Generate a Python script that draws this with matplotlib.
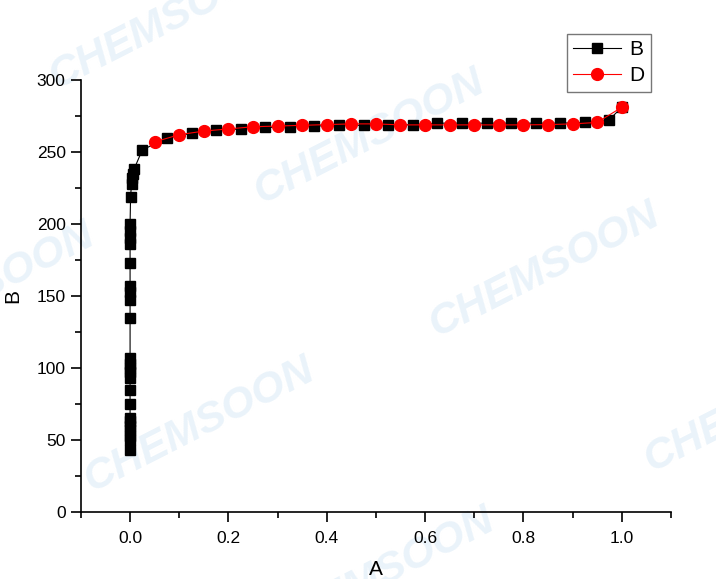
import numpy as np
import matplotlib
matplotlib.use('Agg')
import matplotlib.pyplot as plt
from matplotlib.ticker import MultipleLocator

plt.rcParams['font.family'] = ['Liberation Sans', 'DejaVu Sans']

# Seri B: kolom vertikal di A~0 lalu dataran ~270
b_x = [0.0, 0.0, 0.0, 0.0, 0.0, 0.0, 0.0, 0.0, 0.0, 0.0, 0.0, 0.0, 0.0, 0.0,
       0.0, 0.0, 0.0, 0.0, 0.0, 0.0, 0.0, 0.0, 0.0, 0.001, 0.003, 0.004, 0.006, 0.008,
       0.025, 0.075, 0.125, 0.175, 0.225, 0.275, 0.325, 0.375, 0.425, 0.475,
       0.525, 0.575, 0.625, 0.675, 0.725, 0.775, 0.825, 0.875, 0.925, 0.975, 1.0]
b_y = [43, 50, 53, 57, 60, 63, 65, 75, 85, 93, 97, 100, 103, 107,
       135, 147, 153, 157, 173, 186, 190, 195, 200, 219, 228, 232, 235, 238,
       251.5, 259.5, 263, 265, 266, 267, 267.5, 268, 268.5, 268.5,
       268.5, 269, 270, 270, 270, 270, 270, 270, 270.5, 272.5, 281]

# Seri D
d_x = [0.05, 0.10, 0.15, 0.20, 0.25, 0.30, 0.35, 0.40, 0.45, 0.50,
       0.55, 0.60, 0.65, 0.70, 0.75, 0.80, 0.85, 0.90, 0.95, 1.0]
d_y = [257, 262, 264.5, 266, 267.5, 268, 268.5, 269, 269.5, 269.5,
       268.8, 268.8, 268.8, 268.8, 268.8, 268.8, 269, 269.5, 270.5, 281]

# watermark (x, y dalam piksel gambar)
wm_pos = [(165, 22), (370, 137), (545, 270), (200, 425), (760, 405), (-20, 290), (380, 575)]

fig = plt.figure(figsize=(7.16, 5.79), dpi=100)

# lapisan belakang untuk watermark
bg = fig.add_axes([0, 0, 1, 1], zorder=-1)
bg.set_xlim(0, 716)
bg.set_ylim(579, 0)
bg.axis('off')
for (px, py) in wm_pos:
    bg.text(px, py, 'CHEMSOON', fontsize=31, fontweight='bold', style='italic',
            color='#eaf3fa', rotation=27, ha='center', va='center')

ax = fig.add_axes([0.113, 0.1157, 0.824, 0.7462], zorder=1)
ax.patch.set_alpha(0)

ax.plot(b_x, b_y, color='black', lw=0.8, marker='s', ms=7, mfc='black', mec='black', label='B')
ax.plot(d_x, d_y, color='red', lw=0.8, marker='o', ms=8.5, mfc='red', mec='red', label='D')

ax.set_xlim(-0.1, 1.1)
ax.set_ylim(0, 300)
ax.xaxis.set_minor_locator(MultipleLocator(0.1))
ax.yaxis.set_major_locator(MultipleLocator(50))
ax.yaxis.set_minor_locator(MultipleLocator(25))
ax.set_xticks(np.arange(0, 1.01, 0.2))
ax.set_xticklabels(['0.0', '0.2', '0.4', '0.6', '0.8', '1.0'])

for s in ['top', 'right']:
    ax.spines[s].set_visible(False)
for s in ['left', 'bottom']:
    ax.spines[s].set_linewidth(1.2)
ax.tick_params(which='major', direction='out', length=7, width=1.2, labelsize=12.5)
ax.tick_params(which='minor', direction='out', length=4, width=1.2)
ax.tick_params(axis='x', pad=7)
ax.tick_params(axis='y', pad=4)

ax.set_xlabel('A', fontsize=15, labelpad=10)
ax.set_ylabel('B', fontsize=15, labelpad=10)

leg = ax.legend(loc='upper left', bbox_to_anchor=(0.824, 1.1065), fontsize=15,
                frameon=True, fancybox=False, edgecolor='#555555',
                handlelength=2.3, borderpad=0.3, labelspacing=0.35, handletextpad=0.4,
                borderaxespad=0)
leg.get_frame().set_linewidth(1.0)

fig.savefig('out.png', dpi=100)
